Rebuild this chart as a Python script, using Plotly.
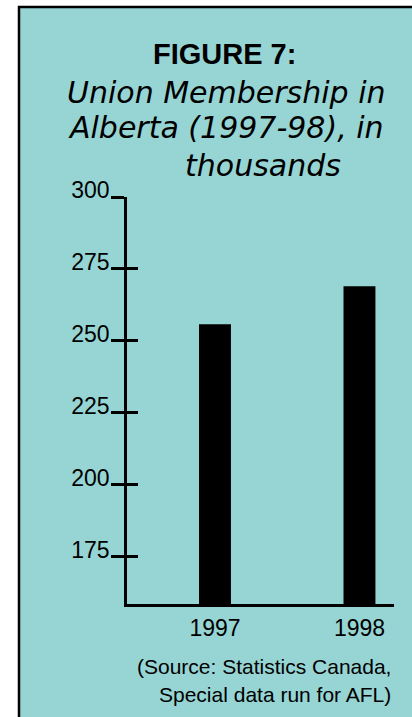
import plotly.graph_objects as go

# ---- data ----
years = ["1997", "1998"]
members = [255.8, 269.0]          # thousands
y_ticks = [175, 200, 225, 250, 275, 300]
title_bold = "FIGURE 7:"
title_lines = ["Union Membership in", "Alberta (1997-98), in", "thousands"]
source_lines = ["(Source: Statistics Canada,", "Special data run for AFL)"]

# ---- layout geometry (pixels) ----
W, H = 412, 717
L, R, T, B = 127, 18, 197, 113
PW, PH = W - L - R, H - T - B
BG = "rgb(150,213,212)"


def px_x(px):
    return (px - L) / PW


def px_y(py):
    return (H - B - py) / PH


yr = [158.6, 300]

fig = go.Figure()
fig.add_trace(go.Bar(
    x=years, y=members, width=0.221,
    marker=dict(color="black", line=dict(width=0)),
    hoverinfo="skip", showlegend=False,
))
# invisible helper trace so the inner tick axis is drawn
fig.add_trace(go.Scatter(
    x=years, y=members, yaxis="y2", mode="markers",
    marker=dict(opacity=0), hoverinfo="skip", showlegend=False,
))

fig.update_layout(
    width=W, height=H, autosize=False,
    margin=dict(l=L, r=R, t=T, b=B, pad=0),
    paper_bgcolor="white",
    plot_bgcolor="rgba(0,0,0,0)",
    font=dict(family="Liberation Sans, Arial, sans-serif", color="black"),
    xaxis=dict(
        type="category", range=[-0.609, 1.239],
        showline=True, linewidth=2.5, linecolor="black",
        ticks="", showgrid=False, zeroline=False,
        tickfont=dict(size=23, family="Liberation Sans, Arial, sans-serif"),
        ticklabelstandoff=2,
        fixedrange=True,
    ),
    yaxis=dict(
        range=yr, tickvals=y_ticks, ticktext=[str(v) for v in y_ticks],
        showline=True, linewidth=2.5, linecolor="black",
        ticks="outside", ticklen=13, tickwidth=2.5, tickcolor="black",
        showgrid=False, zeroline=False,
        tickfont=dict(size=23, family="Liberation Sans, Arial, sans-serif"),
        ticklabelshift=-7, ticklabelstandoff=-3,
        fixedrange=True,
    ),
    yaxis2=dict(
        range=yr, overlaying="y", side="left", tickvals=y_ticks,
        ticks="inside", ticklen=11, tickwidth=2.5, tickcolor="black",
        showticklabels=False, showline=False, showgrid=False, zeroline=False,
        fixedrange=True,
    ),
    shapes=[dict(
        type="rect", xref="paper", yref="paper", layer="below",
        x0=px_x(19), x1=px_x(414), y0=px_y(722), y1=px_y(7),
        fillcolor=BG, line=dict(color="black", width=2.5),
    )],
)

ann = []
ann.append(dict(
    text=f"<b>{title_bold}</b>", x=px_x(224), y=px_y(54),
    font=dict(size=29, family="Liberation Sans, Arial, sans-serif"),
))
title_pos = [(226, 92), (226, 127.5), (263, 165)]
for line, (cx, cy) in zip(title_lines, title_pos):
    ann.append(dict(
        text=f"<i>{line}</i>", x=px_x(cx), y=px_y(cy),
        font=dict(size=30, family="DejaVu Sans, sans-serif"),
    ))
for a in ann:
    a.update(xref="paper", yref="paper", xanchor="center", yanchor="middle",
             showarrow=False)

src_pos = [666, 694]
for line, cy in zip(source_lines, src_pos):
    ann.append(dict(
        text=line, x=px_x(393), y=px_y(cy), xref="paper", yref="paper",
        xanchor="right", yanchor="middle", showarrow=False,
        font=dict(size=21, family="Liberation Sans, Arial, sans-serif"),
    ))

fig.update_layout(annotations=ann)
fig.write_html("out.html", config={"displayModeBar": False})
